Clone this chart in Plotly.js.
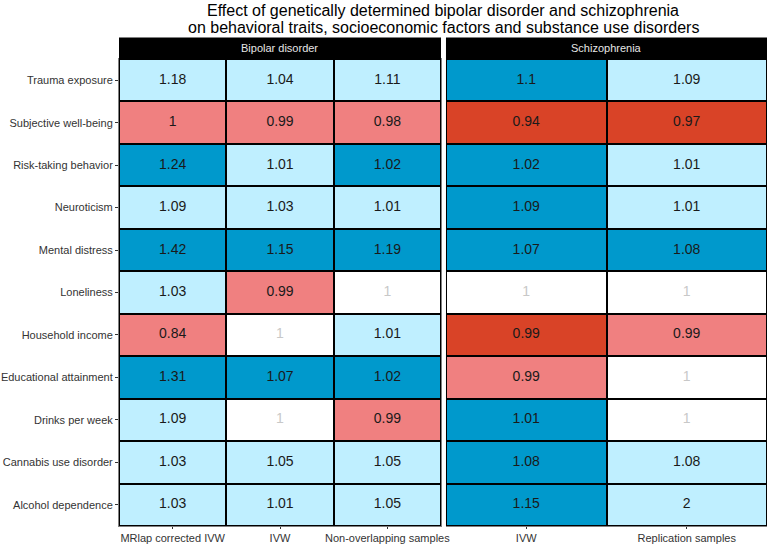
<!DOCTYPE html>
<html>
<head>
<meta charset="utf-8">
<script src="https://cdn.plot.ly/plotly-3.0.1.min.js"></script>
<style>html,body{margin:0;padding:0;background:#fff;}#chart{width:768px;height:544px;}</style>
</head>
<body>
<div id="chart"></div>
<script>
// ---- data ----
const traits = ['Trauma exposure','Subjective well-being','Risk-taking behavior','Neuroticism','Mental distress',
  'Loneliness','Household income','Educational attainment','Drinks per week','Cannabis use disorder','Alcohol dependence'];
const bdMethods = ['MRlap corrected IVW','IVW','Non-overlapping samples'];
const scMethods = ['IVW','Replication samples'];
const panelTitles = ['Bipolar disorder','Schizophrenia'];
const titleLines = ['Effect of genetically determined bipolar disorder and schizophrenia',
  'on behavioral traits, socioeconomic factors and substance use disorders'];

const bdMRlap      = [1.18, 1,    1.24, 1.09, 1.42, 1.03, 0.84, 1.31, 1.09, 1.03, 1.03];
const bdMRlapClass = ['ns+','ns-','sig+','ns+','sig+','ns+','ns-','sig+','ns+','ns+','ns+'];
const bdIVW        = [1.04, 0.99, 1.01, 1.03, 1.15, 0.99, 1,    1.07, 1,    1.05, 1.01];
const bdIVWClass   = ['ns+','ns-','ns+','ns+','sig+','ns-','null','sig+','null','ns+','ns+'];
const bdNonOv      = [1.11, 0.98, 1.02, 1.01, 1.19, 1,    1.01, 1.02, 0.99, 1.05, 1.05];
const bdNonOvClass = ['ns+','ns-','sig+','ns+','sig+','null','ns+','sig+','ns-','ns+','ns+'];
const scIVW        = [1.1,  0.94, 1.02, 1.09, 1.07, 1,    0.99, 0.99, 1.01, 1.08, 1.15];
const scIVWClass   = ['sig+','sig-','sig+','sig+','sig+','null','sig-','ns-','sig+','sig+','sig+'];
const scRep        = [1.09, 0.97, 1.01, 1.01, 1.08, 1,    0.99, 1,    1,    1.08, 2];
const scRepClass   = ['ns+','sig-','ns+','ns+','sig+','null','ns-','null','null','ns+','ns+'];

const classes = ['null','ns+','sig+','ns-','sig-'];
const classColors = ['#FFFFFF','#BFEFFF','#0099CC','#F08080','#D94327'];

// ---- build traces ----
const FONT = 'Liberation Sans, Arial, sans-serif';
const colorscale = classColors.map((c,i)=>[i/(classColors.length-1), c]);

function panel(methods, valueCols, classCols, xa, ya){
  const z = traits.map((t,r)=>valueCols.map((v,c)=>classes.indexOf(classCols[c][r])));
  const heat = {
    type:'heatmap', x:methods, y:traits, z:z, xaxis:xa, yaxis:ya,
    colorscale:colorscale, zmin:0, zmax:classColors.length-1, showscale:false,
    xgap:2, ygap:2, hoverinfo:'skip'
  };
  const tx=[], ty=[], tt=[], tc=[];
  valueCols.forEach((col,c)=>col.forEach((v,r)=>{
    tx.push(methods[c]); ty.push(traits[r]); tt.push(String(v));
    tc.push(classCols[c][r]==='null' ? '#C8C8C8' : '#1A1A1A');
  }));
  const txt = {
    type:'scatter', mode:'text', x:tx, y:ty, text:tt, xaxis:xa, yaxis:ya,
    textfont:{family:FONT, size:14, color:tc},
    hoverinfo:'skip', showlegend:false, cliponaxis:false
  };
  return [heat, txt];
}

const data = [
  ...panel(bdMethods, [bdMRlap, bdIVW, bdNonOv], [bdMRlapClass, bdIVWClass, bdNonOvClass], 'x', 'y'),
  ...panel(scMethods, [scIVW, scRep], [scIVWClass, scRepClass], 'x2', 'y')
];

const axisFont = {family:FONT, size:11, color:'#333333'};
const dom1 = [0, 0.4969], dom2 = [0.5046, 1];
const H = 544, mT = 59, mB = 18, plotH = H - mT - mB;
const stripH = 21.5 / plotH;
const py = p => (H - mB - p) / plotH;   // pixel row -> paper y (for title placement only)

function xaxis(dom, methods){
  return {
    domain:dom, type:'category', categoryarray:methods, categoryorder:'array',
    range:[-0.5, methods.length-0.5], showgrid:false, zeroline:false,
    showline:true, mirror:true, linecolor:'#808080', linewidth:1,
    ticks:'outside', ticklen:2, tickcolor:'#333333', tickwidth:1,
    tickfont:axisFont, automargin:false, fixedrange:true
  };
}

const layout = {
  width:768, height:H,
  margin:{l:119, r:1, t:mT, b:mB},
  paper_bgcolor:'#FFFFFF', plot_bgcolor:'#000000',
  showlegend:false,
  xaxis:xaxis(dom1, bdMethods),
  xaxis2:xaxis(dom2, scMethods),
  yaxis:{
    type:'category', categoryarray:traits, categoryorder:'array',
    range:[traits.length-0.5, -0.5], showgrid:false, zeroline:false,
    showline:true, mirror:true, linecolor:'#808080', linewidth:1,
    ticks:'outside', ticklen:3, tickcolor:'#333333', tickwidth:1,
    tickfont:axisFont, automargin:false, fixedrange:true
  },
  shapes:[dom1, dom2].map(d=>({
    type:'rect', xref:'paper', yref:'paper', x0:d[0], x1:d[1], y0:1, y1:1+stripH,
    fillcolor:'#000000', line:{width:0}
  })),
  annotations:[
    ...[dom1, dom2].map((d,i)=>({
      xref:'paper', yref:'paper', x:(d[0]+d[1])/2, y:1+stripH/2, xanchor:'center', yanchor:'middle',
      text:panelTitles[i], showarrow:false,
      font:{family:FONT, size:11, color:'#E6E6E6'}
    })),
    ...titleLines.map((t,i)=>({
      xref:'paper', yref:'paper', x:0.5, y:py(i===0 ? 11 : 28), xanchor:'center', yanchor:'middle',
      text:t, showarrow:false,
      font:{family:FONT, size:16, color:'#000000'}
    }))
  ]
};

Plotly.newPlot('chart', data, layout, {displayModeBar:false, staticPlot:true});
</script>
</body>
</html>
